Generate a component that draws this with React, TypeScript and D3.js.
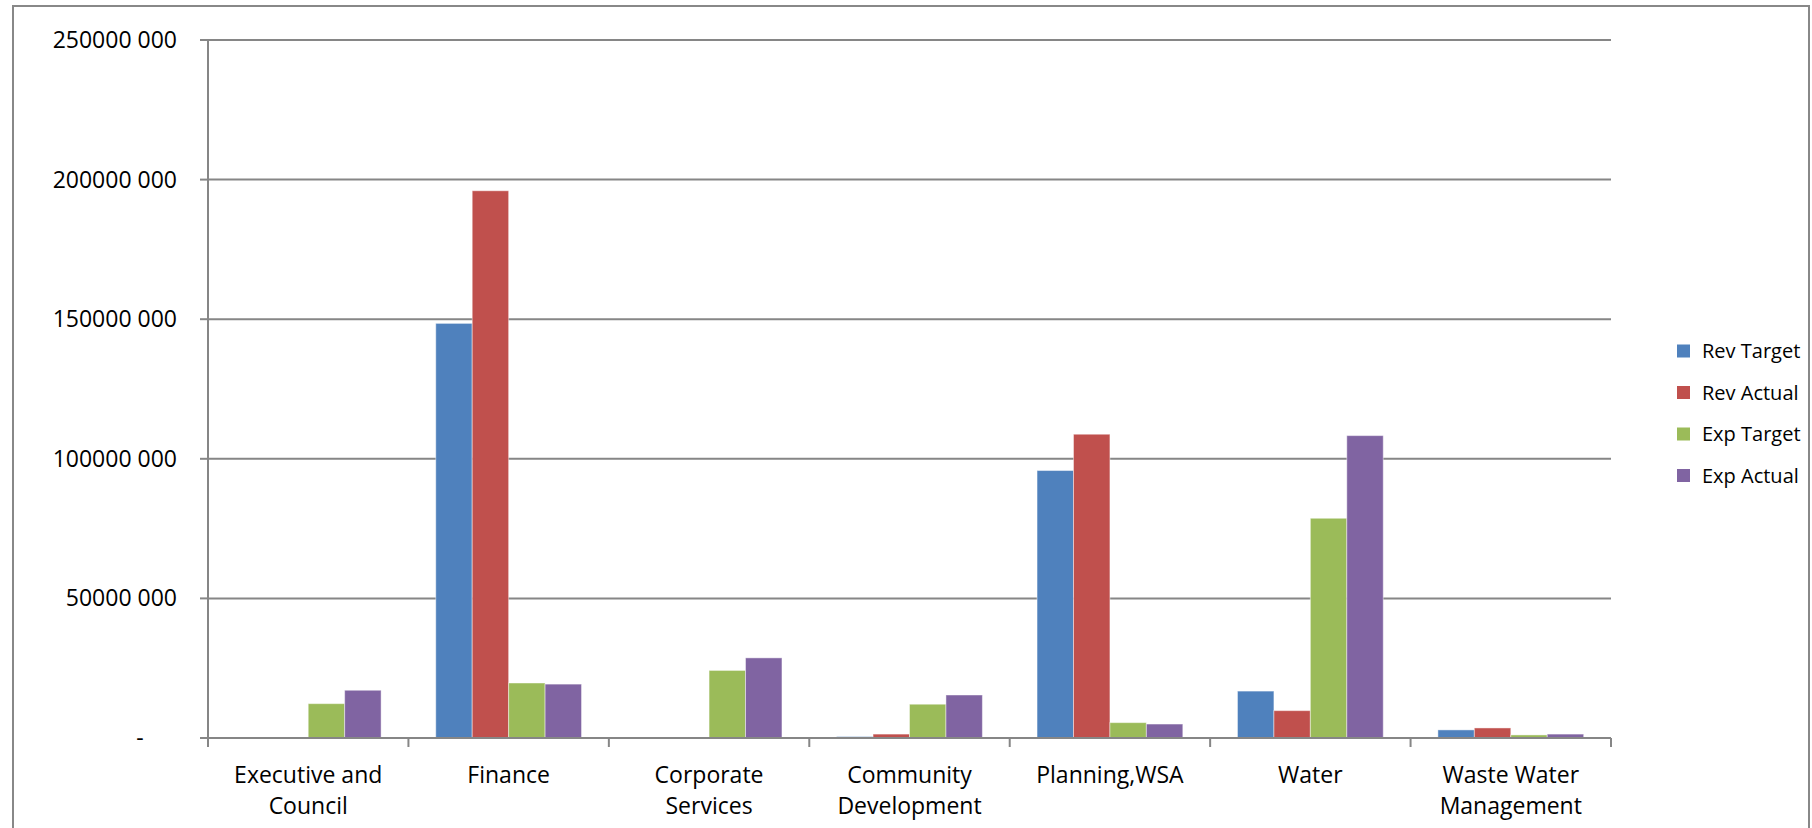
import React from "react";
import * as d3 from "d3";

const categories = [
  "Executive and Council",
  "Finance",
  "Corporate Services",
  "Community Development",
  "Planning,WSA",
  "Water",
  "Waste Water Management",
];
const seriesNames = ["Rev Target", "Rev Actual", "Exp Target", "Exp Actual"];
const revTarget = [0, 148500000, 0, 500000, 95800000, 16800000, 2900000];
const revActual = [0, 196000000, 0, 1400000, 108800000, 9800000, 3600000];
const expTarget = [12300000, 19700000, 24200000, 12100000, 5500000, 78700000, 1100000];
const expActual = [17100000, 19300000, 28700000, 15400000, 5000000, 108300000, 1400000];
const yTicks = [0, 50000000, 100000000, 150000000, 200000000, 250000000];
const colors = ["#4F81BD", "#C0504D", "#9BBB59", "#8064A2"];

const W = 1812;
const H = 828;
const FONT = "'Open Sans', 'Liberation Sans', sans-serif";

function wrap(text: string, maxW: number, font: string): string[] {
  const c = document.createElement("canvas").getContext("2d");
  if (!c) return [text];
  c.font = font;
  const words = text.split(" ");
  const lines: string[] = [];
  let cur = "";
  for (const w of words) {
    const t = cur ? cur + " " + w : w;
    if (c.measureText(t).width > maxW && cur) {
      lines.push(cur);
      cur = w;
    } else cur = t;
  }
  if (cur) lines.push(cur);
  return lines;
}

export default function App() {
  const left = 208;
  const right = 1611;
  const top = 40;
  const bottom = 738;
  const allSeries = [revTarget, revActual, expTarget, expActual];

  const x = d3.scaleBand<string>().domain(categories).range([left, right]).paddingInner(0).paddingOuter(0);
  const xs = d3
    .scaleBand<string>()
    .domain(seriesNames)
    .range([0, x.bandwidth()])
    .paddingInner(0)
    .paddingOuter(0.75);
  const y = d3.scaleLinear().domain([0, 250000000]).range([bottom, top]);
  const fmt = (v: number) => (v === 0 ? "-" : `${v / 1000} 000`);

  const catFont = `23px ${FONT}`;

  return (
    <svg
      width={W}
      height={H}
      style={{ position: "absolute", left: 0, top: 0, display: "block", background: "#fff" }}
      fontFamily={FONT}
    >
      <rect x={13} y={6} width={1796} height={H + 20} fill="#fff" stroke="#888" strokeWidth={2} />
      {yTicks.map((t) => (
        <g key={t}>
          {t > 0 && <line x1={left} x2={right} y1={y(t)} y2={y(t)} stroke="#868686" strokeWidth={2} />}
          <line x1={left - 8} x2={left} y1={y(t)} y2={y(t)} stroke="#868686" strokeWidth={2} />
          <text
            x={t === 0 ? 140 : 177}
            y={y(t)}
            dy="0.35em"
            textAnchor={t === 0 ? "middle" : "end"}
            fontSize={23}
            fill="#000"
          >
            {fmt(t)}
          </text>
        </g>
      ))}
      {categories.map((c, i) => (
        <g key={c}>
          {allSeries.map((s, j) => (
            <rect
              key={j}
              x={(x(c) as number) + (xs(seriesNames[j]) as number)}
              y={y(s[i])}
              width={xs.bandwidth()}
              height={bottom - y(s[i])}
              fill={colors[j]}
              stroke="#fff"
              strokeOpacity={0.45}
              strokeWidth={1}
            />
          ))}
        </g>
      ))}
      <line x1={left} x2={left} y1={top} y2={bottom} stroke="#868686" strokeWidth={2} />
      <line x1={left} x2={right} y1={bottom} y2={bottom} stroke="#868686" strokeWidth={2} />
      {[...categories.map((c) => x(c) as number), right].map((px, i) => (
        <line key={i} x1={px} x2={px} y1={bottom} y2={bottom + 9} stroke="#868686" strokeWidth={2} />
      ))}
      {categories.map((c) => {
        const lines = wrap(c, 170, catFont);
        const cx = (x(c) as number) + x.bandwidth() / 2;
        return (
          <text key={c} x={cx} textAnchor="middle" fontSize={23} fill="#000">
            {lines.map((l, k) => (
              <tspan key={k} x={cx} y={783 + k * 31}>
                {l}
              </tspan>
            ))}
          </text>
        );
      })}
      {seriesNames.map((n, j) => {
        const cy = 351 + j * 41.5;
        return (
          <g key={n}>
            <rect x={1677} y={cy - 6.5} width={13} height={13} fill={colors[j]} />
            <text x={1702} y={cy} dy="0.35em" fontSize={20} fill="#000">
              {n}
            </text>
          </g>
        );
      })}
    </svg>
  );
}
